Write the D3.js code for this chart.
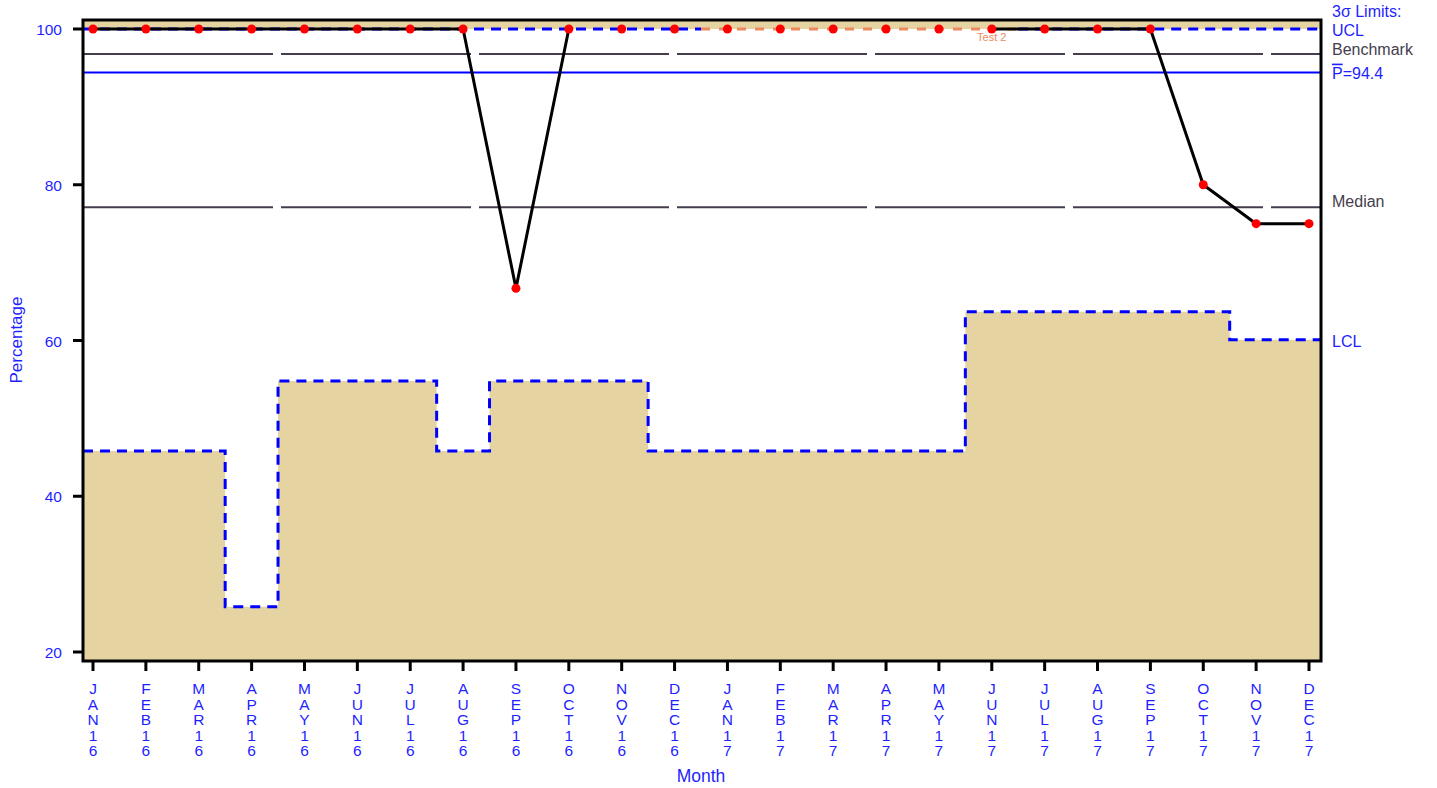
<!DOCTYPE html>
<html><head><meta charset="utf-8">
<script src="https://cdn.jsdelivr.net/npm/d3@7"></script>
<style>body{margin:0;background:#fff}svg{display:block}text{font-family:"Liberation Sans",Arial,sans-serif}</style>
</head><body><svg id="c" width="1437" height="788"></svg>
<script>
const months = ["JAN16","FEB16","MAR16","APR16","MAY16","JUN16","JUL16","AUG16","SEP16","OCT16","NOV16","DEC16",
                "JAN17","FEB17","MAR17","APR17","MAY17","JUN17","JUL17","AUG17","SEP17","OCT17","NOV17","DEC17"];
const percentage = [100,100,100,100,100,100,100,100,66.7,100,100,100,100,100,100,100,100,100,100,100,100,80,75,75];
const connected =  [1,1,1,1,1,1,1,1,1,1,0,0,0,0,0,0,0,1,1,1,1,1,1,1];
const ucl = [100,100,100,100,100,100,100,100,100,100,100,100,100,100,100,100,100,100,100,100,100,100,100,100];
const lcl = [45.8,45.8,45.8,25.8,54.8,54.8,54.8,45.8,54.8,54.8,54.8,45.8,45.8,45.8,45.8,45.8,45.8,63.7,63.7,63.7,63.7,63.7,60.1,60.1];
const test2 = [0,0,0,0,0,0,0,0,0,0,0,0,1,1,1,1,1,1,0,0,0,0,0,0];
const meanP = 94.4;
const benchmark = 96.8;
const median = 77.1;
const yTicks = [20,40,60,80,100];

const blue = "#1f1fff", tan = "#e5d3a2", gray = "#453d4d", orange = "#ea8a5e";
const svg = d3.select("#c");
const F = {l:83, r:1321, t:20, b:661};
const x = d3.scaleLinear().domain([0, months.length-1]).range([93, 1309]);
const y = d3.scaleLinear().domain([20, 100]).range([652, 29]);

svg.append("rect").attr("x",F.l).attr("y",F.t).attr("width",F.r-F.l).attr("height",y(100)-F.t).attr("fill",tan);
const lclPts = [{px:F.l, v:lcl[0]}].concat(lcl.map((v,i)=>({px:x(i), v}))).concat([{px:F.r, v:lcl[lcl.length-1]}]);
svg.append("path").datum(lclPts)
  .attr("d", d3.area().curve(d3.curveStep).x(d=>d.px).y0(F.b).y1(d=>y(d.v)))
  .attr("fill", tan);

function hline(v, color, w, dash){
  svg.append("line").attr("x1",F.l).attr("x2",F.r).attr("y1",y(v)).attr("y2",y(v))
    .attr("stroke",color).attr("stroke-width",w).attr("stroke-dasharray",dash||null);
}
hline(benchmark, gray, 2, "190,8");
hline(median, gray, 2, "190,8");
hline(meanP, "#0000ff", 2);

svg.append("path").datum(lclPts)
  .attr("d", d3.line().curve(d3.curveStep).x(d=>d.px).y(d=>y(d.v)))
  .attr("fill","none").attr("stroke","#0000ff").attr("stroke-width",3).attr("stroke-dasharray","10,7");

const clampX = px => Math.max(F.l, Math.min(F.r, px));
let runs = [];
ucl.forEach((v,i)=>{
  const f = test2[i];
  if (runs.length && runs[runs.length-1].f===f) runs[runs.length-1].e=i;
  else runs.push({f, s:i, e:i, v});
});
runs.forEach(r=>{
  svg.append("line")
    .attr("x1", clampX(x(r.s-0.5))).attr("x2", clampX(x(r.e+0.5)))
    .attr("y1", y(r.v)).attr("y2", y(r.v))
    .attr("stroke", r.f ? orange : "#0000ff").attr("stroke-width",3)
    .attr("stroke-dasharray", r.f ? "9,9" : "10,7");
});
const lastFlag = test2.lastIndexOf(1);
svg.append("text").attr("x", x(lastFlag)).attr("y", y(ucl[lastFlag])+12)
  .attr("text-anchor","middle").attr("font-size",11).attr("fill",orange).text("Test 2");

svg.append("path").datum(percentage.map((v,i)=>({v,i})))
  .attr("d", d3.line().defined(d=>connected[d.i]).x(d=>x(d.i)).y(d=>y(d.v)))
  .attr("fill","none").attr("stroke","#000").attr("stroke-width",3).attr("stroke-linejoin","round");
svg.selectAll("circle.pt").data(percentage).enter().append("circle")
  .attr("cx",(d,i)=>x(i)).attr("cy",d=>y(d)).attr("r",4.5).attr("fill","#ff0000");

svg.append("rect").attr("x",F.l).attr("y",F.t).attr("width",F.r-F.l).attr("height",F.b-F.t)
  .attr("fill","none").attr("stroke","#000").attr("stroke-width",3);

yTicks.forEach(t=>{
  svg.append("line").attr("x1",F.l-10).attr("x2",F.l).attr("y1",y(t)).attr("y2",y(t))
    .attr("stroke","#000").attr("stroke-width",3);
  svg.append("text").attr("x",62).attr("y",y(t)+6).attr("text-anchor","end")
    .attr("font-size",15.5).attr("fill",blue).text(t);
});
months.forEach((m,i)=>{
  svg.append("line").attr("x1",x(i)).attr("x2",x(i)).attr("y1",F.b).attr("y2",F.b+10)
    .attr("stroke","#000").attr("stroke-width",3);
  const t = svg.append("text").attr("x",x(i)).attr("y",694).attr("text-anchor","middle")
    .attr("font-size",15.5).attr("fill",blue);
  m.split("").forEach((ch,k)=>{
    t.append("tspan").attr("x",x(i)).attr("dy", k===0?0:15.6).text(ch);
  });
});

svg.append("text").attr("x",701).attr("y",782).attr("text-anchor","middle")
  .attr("font-size",17.5).attr("fill",blue).text("Month");
svg.append("text").attr("transform","translate(22,340) rotate(-90)").attr("text-anchor","middle")
  .attr("font-size",17).attr("fill",blue).text("Percentage");

const LX = 1332;
function rlabel(txt, yy, color){
  return svg.append("text").attr("x",LX).attr("y",yy).attr("font-size",16).attr("fill",color).text(txt);
}
rlabel("3σ Limits:", 17, blue);
rlabel("UCL", y(100)+7, blue);
rlabel("Benchmark", y(benchmark)+1, gray);
const pl = svg.append("text").attr("x",LX).attr("y",y(meanP)+6).attr("font-size",16).attr("fill",blue);
pl.append("tspan").attr("text-decoration","overline").text("P");
pl.append("tspan").text("=" + meanP);
rlabel("Median", y(median), gray);
rlabel("LCL", y(lcl[lcl.length-1])+7, blue);
</script></body></html>
